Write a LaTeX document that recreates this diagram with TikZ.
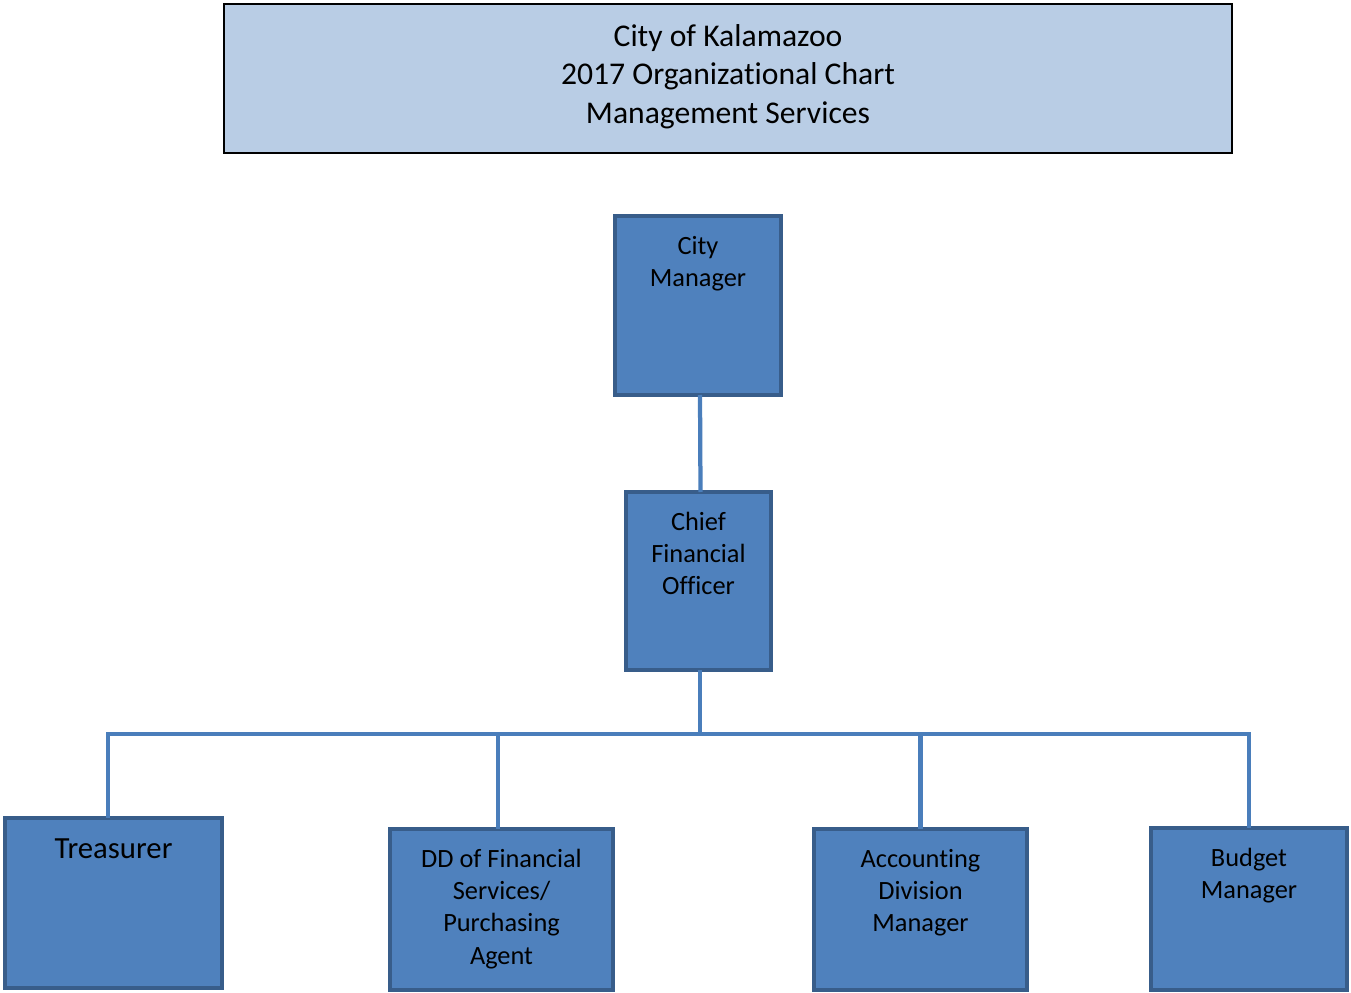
\documentclass[tikz,border=0pt]{standalone}
\usepackage{fontspec}
\setmainfont{Carlito}[Ligatures=CommonOff]
\usepackage{tikz}
\usetikzlibrary{positioning}
\definecolor{postfill}{HTML}{4F81BD}
\definecolor{postdraw}{HTML}{385D8A}
\definecolor{linkcol}{HTML}{4A7EBB}
\definecolor{titlefill}{HTML}{B9CDE5}
\tikzset{
	post/.style     = {draw=postdraw, fill=postfill, line width=0.9mm, rectangle,
		inner sep=0pt, outer sep=0pt},
	titlebox/.style = {draw=black, fill=titlefill, line width=0.4mm, rectangle,
		inner sep=0pt, outer sep=0pt},
	boxtext/.style  = {anchor=north, align=center, inner sep=0pt, yshift=-4mm,
		font=\fontsize{15}{18.3}\selectfont},
	titletext/.style = {boxtext, font=\fontsize{18}{22}\selectfont},
	link/.style     = {draw=linkcol, line width=0.85mm}
}

\begin{document}
\begin{tikzpicture}[x=0.2mm, y=-0.2mm]
	\useasboundingbox (0,0) rectangle (1351,993);
	\draw
	node at (728,78.5)[titlebox, minimum width=201.6mm, minimum height=29.8mm,
		label={[titletext]north:City of Kalamazoo\\2017 Organizational Chart\\Management Services}] (title) {}
	node at (698,305.5)[post, minimum width=33.2mm, minimum height=35.8mm,
		label={[boxtext]north:City\\Manager}] (cm) {}
	node at (698.5,581)[post, minimum width=29mm, minimum height=35.6mm,
		label={[boxtext]north:Chief\\Financial\\Officer}] (cfo) {}
	node at (113.5,903)[post, minimum width=43.4mm, minimum height=34mm,
		label={[boxtext, font=\fontsize{17.5}{21}\selectfont]north:Treasurer}] (tre) {}
	node at (501.5,909.5)[post, minimum width=44.6mm, minimum height=32.2mm,
		label={[boxtext]north:DD of Financial\\Services/\\Purchasing\\Agent}] (dd) {}
	node at (920.5,909.5)[post, minimum width=42.6mm, minimum height=32.2mm,
		label={[boxtext]north:Accounting\\Division\\Manager}] (acc) {}
	node at (1249,909)[post, minimum width=39.2mm, minimum height=32.4mm,
		label={[boxtext]north:Budget\\Manager}] (bud) {};
	\coordinate (bus) at (700,734);

	\draw[link] ([xshift=0.4mm]cm.south) -- ([xshift=0.4mm]cfo.north);
	\draw[link] ([xshift=0.3mm]cfo.south) -- (bus);
	\draw[link] ([xshift=-1.1mm]tre.north) |- (bud.north |- bus) -- (bud.north);
	\draw[link] ([xshift=-0.7mm]dd.north) -- ([xshift=-0.7mm]dd.north |- bus);
	\draw[link] (acc.north) -- (acc.north |- bus);
\end{tikzpicture}
\end{document}
